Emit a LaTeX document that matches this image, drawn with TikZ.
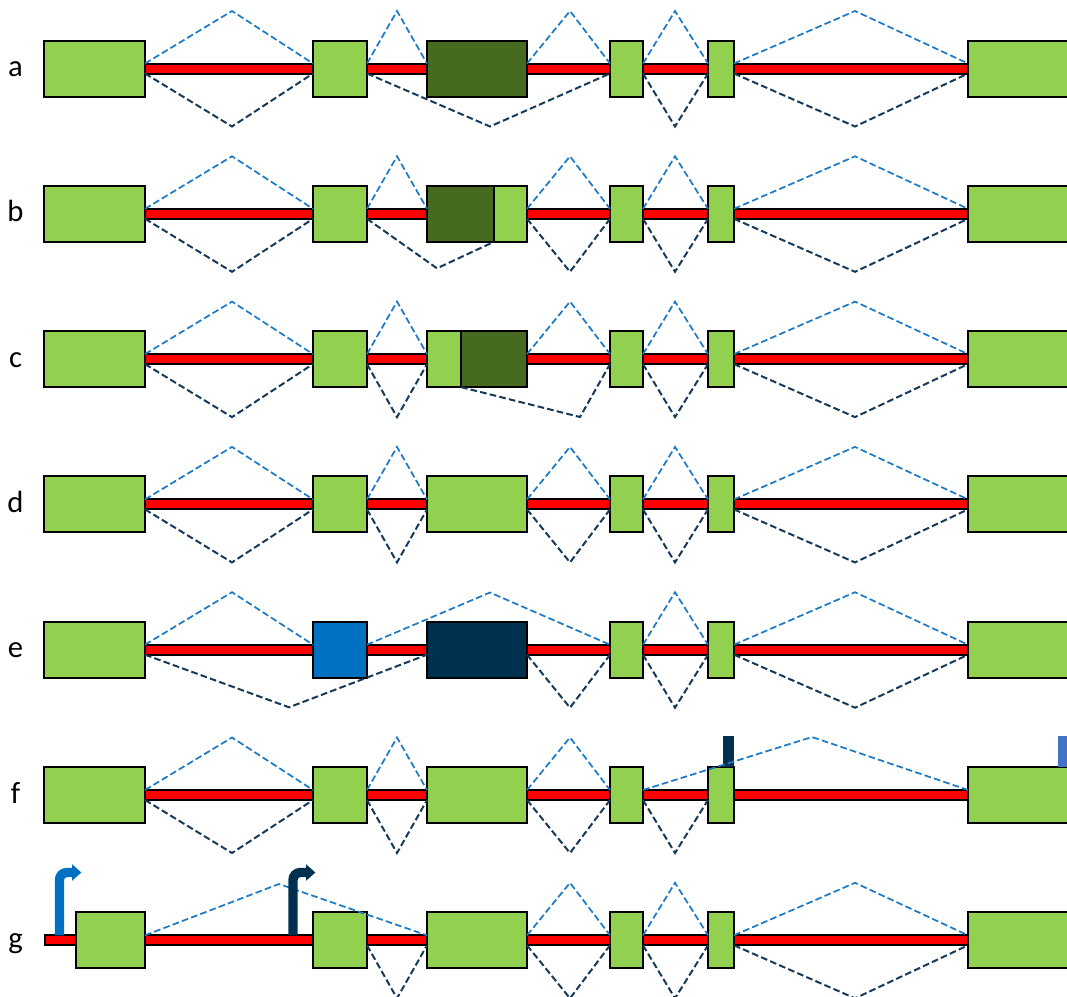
\documentclass[tikz,border=0pt]{standalone}
\usepackage{fontspec}
\setmainfont{Carlito}
\definecolor{lg}{HTML}{92D050}
\definecolor{dg}{HTML}{466A20}
\definecolor{nv}{HTML}{00304F}
\definecolor{bb}{HTML}{0070C0}
\definecolor{lb}{HTML}{4472C4}
\definecolor{tb}{HTML}{1C7AC6}
\definecolor{db}{HTML}{173A5A}
\def\h{3.75pt}
\tikzset{
  exon/.style={draw=black,line width=1.5pt,inner sep=0pt,outer sep=0pt,minimum height=42pt},
  intron/.style={draw=black,fill=red,line width=1.5pt,inner sep=0pt,outer sep=0pt,minimum height=7.5pt},
  lab/.style={anchor=base,inner sep=0pt,font=\fontsize{23}{27}\selectfont},
  up/.style={draw=tb,line width=1.3pt,dash pattern=on 5pt off 2.4pt},
  dn/.style={draw=db,line width=1.5pt,dash pattern=on 5pt off 2.4pt},
  stem/.style={line width=7pt,rounded corners=5.5pt},
  tagbar/.style={inner sep=0pt,outer sep=0pt,minimum height=23.25pt}
}
\newcommand\exon[5]{\node[exon,fill=#5,minimum width={(#3-#2)*0.75pt}] (#1) at ({(#2+#3)/2},#4) {};}
% #1 prefix, #2 yc, #3 box1 left, #4 bar left, #5 box2 colour
\newcommand\generow[5]{%
  \node[intron,minimum width={(968-#4)*0.75pt}] (#1bar) at ({(968+#4)/2},#2) {};
  \exon{#11}{#3}{145}{#2}{lg}
  \exon{#12}{313}{367}{#2}{#5}
  \exon{#14}{610}{643}{#2}{lg}
  \exon{#15}{708}{734}{#2}{lg}
  \exon{#16}{968}{1100}{#2}{lg}
  \node[lab] (#1lab) at (15.5,{#2+8}) {#1};
  \coordinate (#1t1) at (232,{#2-57.5});
  \coordinate (#1t2) at (397,{#2-57.5});
  \coordinate (#1t3) at (570,{#2-57.5});
  \coordinate (#1t4) at (675,{#2-57.5});
  \coordinate (#1t5) at (855,{#2-57.5});
  \coordinate (#1u1) at (232,{#2+58});
  \coordinate (#1u2) at (397,{#2+58});
  \coordinate (#1u3) at (570,{#2+58});
  \coordinate (#1u4) at (675,{#2+58});
  \coordinate (#1u5) at (855,{#2+58});
}
\newcommand\upj[3]{\draw[up] ([yshift=\h]#1.east) -- (#2) -- ([yshift=\h]#3.west);}
\newcommand\dnj[3]{\draw[dn] ([yshift=-\h]#1.east) -- (#2) -- ([yshift=-\h]#3.west);}
\begin{document}
\begin{tikzpicture}[x=0.75pt,y=-0.75pt]
\useasboundingbox (0,0) rectangle (1067,996);
% ---------- row a
\generow{a}{68.5}{44}{145}{lg}
\exon{a3}{427}{527}{68.5}{dg}
\coordinate (ask) at (490,126.5);
\upj{a1}{at1}{a2}\upj{a2}{at2}{a3}\upj{a3}{at3}{a4}\upj{a4}{at4}{a5}\upj{a5}{at5}{a6}
\dnj{a1}{au1}{a2}\dnj{a2}{ask}{a4}\dnj{a4}{au4}{a5}\dnj{a5}{au5}{a6}
% ---------- row b
\generow{b}{213.8}{44}{145}{lg}
\exon{b3a}{427}{494}{213.8}{dg}
\exon{b3b}{494}{527}{213.8}{lg}
\coordinate (bsk) at (437,268.3);
\upj{b1}{bt1}{b2}\upj{b2}{bt2}{b3a}\upj{b3b}{bt3}{b4}\upj{b4}{bt4}{b5}\upj{b5}{bt5}{b6}
\dnj{b1}{bu1}{b2}\dnj{b3b}{bu3}{b4}\dnj{b4}{bu4}{b5}\dnj{b5}{bu5}{b6}
\draw[dn] ([yshift=-\h]b2.east) -- (bsk) -- (b3a.south east);
% ---------- row c
\generow{c}{359.1}{44}{145}{lg}
\exon{c3a}{427}{461}{359.1}{lg}
\exon{c3b}{461}{527}{359.1}{dg}
\coordinate (csk) at (580,417);
\upj{c1}{ct1}{c2}\upj{c2}{ct2}{c3a}\upj{c3b}{ct3}{c4}\upj{c4}{ct4}{c5}\upj{c5}{ct5}{c6}
\dnj{c1}{cu1}{c2}\dnj{c2}{cu2}{c3a}\dnj{c4}{cu4}{c5}\dnj{c5}{cu5}{c6}
\draw[dn] (c3a.south east) -- (csk) -- ([yshift=-\h]c4.west);
% ---------- row d
\generow{d}{504.4}{44}{145}{lg}
\exon{d3}{427}{527}{504.4}{lg}
\upj{d1}{dt1}{d2}\upj{d2}{dt2}{d3}\upj{d3}{dt3}{d4}\upj{d4}{dt4}{d5}\upj{d5}{dt5}{d6}
\dnj{d1}{du1}{d2}\dnj{d2}{du2}{d3}\dnj{d3}{du3}{d4}\dnj{d4}{du4}{d5}\dnj{d5}{du5}{d6}
% ---------- row e
\generow{e}{649.7}{44}{145}{bb}
\exon{e3}{427}{527}{649.7}{nv}
\coordinate (esk) at (490,592.5);
\coordinate (esl) at (289,707.3);
\upj{e1}{et1}{e2}\upj{e2}{esk}{e4}\upj{e4}{et4}{e5}\upj{e5}{et5}{e6}
\dnj{e1}{esl}{e3}\dnj{e3}{eu3}{e4}\dnj{e4}{eu4}{e5}\dnj{e5}{eu5}{e6}
% ---------- row f
\generow{f}{795}{44}{145}{lg}
\exon{f3}{427}{527}{795}{lg}
\coordinate (fsk) at (812,737);
\node[tagbar,fill=nv,minimum width={11*0.75pt},anchor=south east] (fm1) at (f5.north east) {};
\node[tagbar,fill=lb,minimum width={14*0.75pt},anchor=south west] (fm2) at (1058,767) {};
\upj{f1}{ft1}{f2}\upj{f2}{ft2}{f3}\upj{f3}{ft3}{f4}\upj{f4}{fsk}{f6}
\dnj{f1}{fu1}{f2}\dnj{f2}{fu2}{f3}\dnj{f3}{fu3}{f4}\dnj{f4}{fu4}{f5}
% ---------- row g
\generow{g}{940.3}{76}{45}{lg}
\exon{g3}{427}{527}{940.3}{lg}
\coordinate (gsk) at (279,884);
\upj{g1}{gsk}{g3}\upj{g3}{gt3}{g4}\upj{g4}{gt4}{g5}\upj{g5}{gt5}{g6}
\dnj{g2}{gu2}{g3}\dnj{g3}{gu3}{g4}\dnj{g4}{gu4}{g5}\dnj{g5}{gu5}{g6}
% promoter arrows
\coordinate (ga0) at (59.5,935.3);
\coordinate (ga1) at (72,872.5);
\coordinate (gb0) at (293,935.3);
\coordinate (gb1) at (306,872.5);
\draw[stem,bb] (ga0) |- (ga1);
\fill[bb] ([yshift=6.2pt]ga1) -- ([xshift=7pt]ga1) -- ([yshift=-6.2pt]ga1) -- cycle;
\draw[stem,nv] (gb0) |- (gb1);
\fill[nv] ([yshift=6.2pt]gb1) -- ([xshift=7pt]gb1) -- ([yshift=-6.2pt]gb1) -- cycle;
\end{tikzpicture}
\end{document}
